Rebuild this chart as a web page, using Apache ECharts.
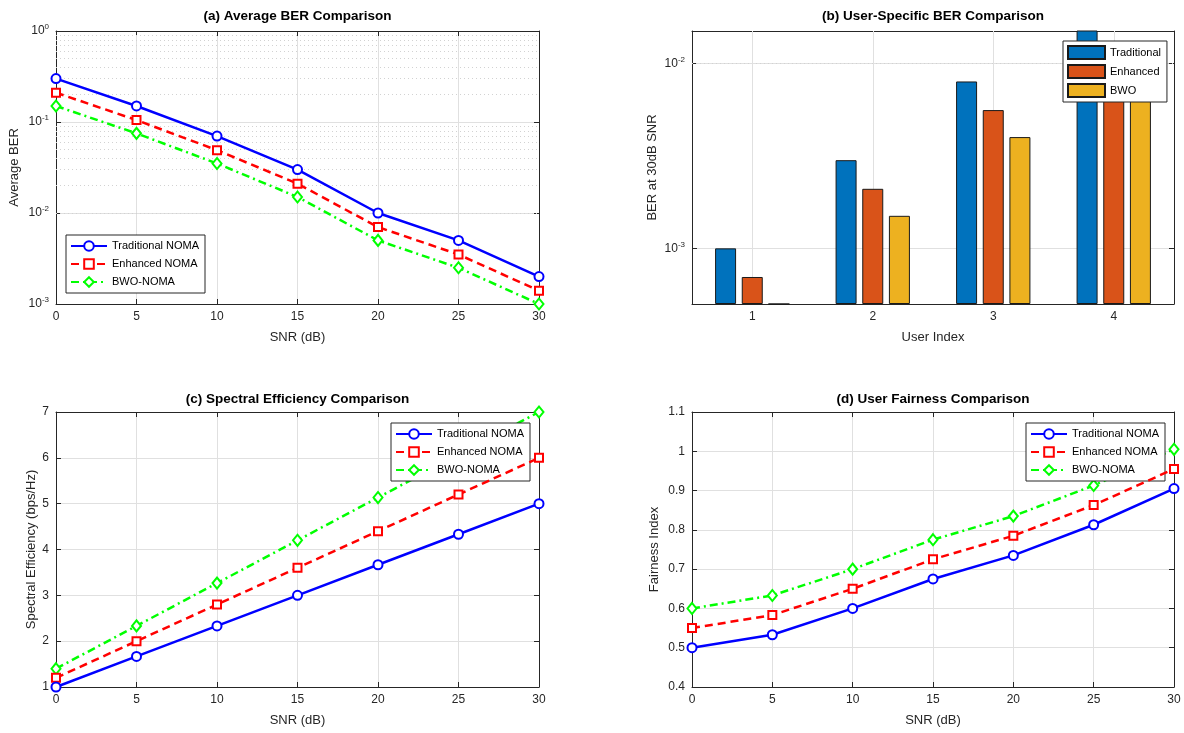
<!DOCTYPE html>
<html><head><meta charset="utf-8">
<script src="https://cdn.jsdelivr.net/npm/echarts@6/dist/echarts.min.js"></script>
<style>html,body{margin:0;padding:0;background:#fff}#c{width:1184px;height:733px}</style>
</head><body><div id="c"></div>
<script>
// ---------- data ----------
const snr = [0, 5, 10, 15, 20, 25, 30];
const berTrad = [0.3, 0.15, 0.07, 0.03, 0.01, 0.005, 0.002];
const berEnh  = [0.21, 0.105, 0.049, 0.021, 0.007, 0.0035, 0.0014];
const berBwo  = [0.15, 0.075, 0.035, 0.015, 0.005, 0.0025, 0.001];
const users = ['1', '2', '3', '4'];
const userTrad = [0.001, 0.003, 0.008, 0.016];
const userEnh  = [0.0007, 0.0021, 0.0056, 0.0112];
const userBwo  = [0.0005, 0.0015, 0.004, 0.008];
const seTrad = [1, 1.667, 2.333, 3, 3.667, 4.333, 5];
const seEnh  = [1.2, 2.0, 2.8, 3.6, 4.4, 5.2, 6.0];
const seBwo  = [1.4, 2.333, 3.267, 4.2, 5.133, 6.067, 7.0];
const fTrad = [0.5, 0.533, 0.6, 0.675, 0.735, 0.813, 0.905];
const fEnh  = [0.55, 0.583, 0.65, 0.725, 0.785, 0.863, 0.955];
const fBwo  = [0.6, 0.633, 0.7, 0.775, 0.835, 0.913, 1.005];
const lineNames = ['Traditional NOMA', 'Enhanced NOMA', 'BWO-NOMA'];
const barNames = ['Traditional', 'Enhanced', 'BWO'];

// ---------- styles ----------
const FONT = '"Liberation Sans", Arial, Helvetica, sans-serif';
const INK = '#262626';
const GRID = '#e0e0e0';
const MINOR = '#d2d2d2';
const lineStyles = [
  {color: '#0000ff', type: 'solid', symbol: 'emptyCircle', size: 9},
  {color: '#ff0000', type: [8, 5], symbol: 'emptyRect', size: 8},
  {color: '#00ff00', type: [8, 4, 2, 4], symbol: 'emptyDiamond', size: [9, 11]}
];
const barColors = ['#0072BD', '#D95319', '#EDB120'];

const grids = [
  {left: 56, top: 31, width: 483, height: 273},
  {left: 692, top: 31, width: 482, height: 273},
  {left: 56, top: 412, width: 483, height: 275},
  {left: 692, top: 412, width: 482, height: 275}
];

function logLabel(v) {
  const l = Math.log10(v); const r = Math.round(l);
  if (Math.abs(l - r) > 1e-6) return '';
  return '10{s|' + r + '}';
}
const richSup = {s: {fontSize: 8, color: INK, fontFamily: FONT, padding: [0, 0, 8, 0]}};

function minorVals(dMin, dMax, lo, hi) {
  const out = [];
  for (let d = dMin; d <= dMax; d++) for (let k = 2; k <= 9; k++) {
    const v = k * Math.pow(10, d);
    if (v > lo * 1.0001 && v < hi * 0.9999) out.push(v);
  }
  return out;
}

const tickStyle = {show: true, inside: true, length: 5, lineStyle: {color: INK}};
const lineAx = {show: true, onZero: false, lineStyle: {color: INK, width: 1}};
const labStyle = {color: INK, fontSize: 12, fontFamily: FONT, margin: 7};
const nameStyle = {color: INK, fontSize: 13, fontFamily: FONT};

function snrX(gi, pos, named) {
  return {
    type: 'value', gridIndex: gi, position: pos, min: 0, max: 30, interval: 5,
    name: named ? 'SNR (dB)' : '', nameLocation: 'middle', nameGap: 27, nameTextStyle: nameStyle,
    axisLine: lineAx, axisTick: tickStyle,
    axisLabel: Object.assign({show: named}, labStyle),
    splitLine: {show: named, lineStyle: {color: GRID, width: 1}}
  };
}
function yAx(gi, pos, cfg, named) {
  const a = Object.assign({
    gridIndex: gi, position: pos, nameLocation: 'middle', nameTextStyle: nameStyle,
    axisLine: lineAx, axisTick: tickStyle,
    axisLabel: Object.assign({show: named}, labStyle),
    splitLine: {show: named, lineStyle: {color: GRID, width: 1}}
  }, cfg);
  if (!named) a.name = '';
  return a;
}

const logLabelCfg = Object.assign({}, labStyle, {formatter: logLabel, rich: richSup});

const xAxis = [
  snrX(0, 'bottom', true), snrX(0, 'top', false),
  {type: 'category', gridIndex: 1, position: 'bottom', data: users, boundaryGap: true,
   name: 'User Index', nameLocation: 'middle', nameGap: 27, nameTextStyle: nameStyle,
   axisLine: lineAx, axisTick: Object.assign({alignWithLabel: true}, tickStyle),
   axisLabel: labStyle, splitLine: {show: false}},
  {type: 'category', gridIndex: 1, position: 'top', data: users, boundaryGap: true,
   axisLine: lineAx, axisTick: Object.assign({alignWithLabel: true}, tickStyle),
   axisLabel: {show: false}, splitLine: {show: false}},
  snrX(2, 'bottom', true), snrX(2, 'top', false),
  snrX(3, 'bottom', true), snrX(3, 'top', false)
];

const yA = {type: 'log', logBase: 10, min: 0.001, max: 1, name: 'Average BER', nameGap: 35};
const yB = {type: 'log', logBase: 10, min: 0.0005, max: 0.015, startValue: 0.0005, name: 'BER at 30dB SNR', nameGap: 33};
const yC = {type: 'value', min: 1, max: 7, interval: 1, name: 'Spectral Efficiency (bps/Hz)', nameGap: 18};
const yD = {type: 'value', min: 0.4, max: 1.1, interval: 0.1, name: 'Fairness Index', nameGap: 31};

const yAxis = [
  yAx(0, 'left', yA, true), yAx(0, 'right', yA, false),
  yAx(1, 'left', yB, true), yAx(1, 'right', yB, false),
  yAx(2, 'left', yC, true), yAx(2, 'right', yC, false),
  yAx(3, 'left', yD, true), yAx(3, 'right', yD, false)
];
yAxis[0].axisLabel = Object.assign({show: true}, logLabelCfg);
yAxis[2].axisLabel = Object.assign({show: true}, logLabelCfg);

function lineSeries(ax, ys, i) {
  const s = lineStyles[i];
  return {
    type: 'line', name: lineNames[i], xAxisIndex: ax, yAxisIndex: ax,
    data: snr.map((x, k) => [x, ys[k]]),
    symbol: s.symbol, symbolSize: s.size, showSymbol: true,
    lineStyle: {color: s.color, width: 2.5, type: s.type},
    itemStyle: {color: s.color, borderColor: s.color, borderWidth: 2},
    z: 3 - i + 2
  };
}

const minorA = minorVals(-3, -1, 0.001, 1);
const minorB = minorVals(-4, -3, 0.0005, 0.015);

const series = [
  {type: 'line', xAxisIndex: 0, yAxisIndex: 0, data: [], z: 1, silent: true,
   markLine: {silent: true, animation: false, z: 1, symbol: ['none', 'none'], label: {show: false},
     lineStyle: {type: [1, 3], color: MINOR, width: 1},
     data: minorA.map(v => ({yAxis: v}))}},
  {type: 'line', xAxisIndex: 2, yAxisIndex: 2, data: [], z: 1, silent: true,
   markLine: {silent: true, animation: false, z: 1, symbol: ['none', 'none'], label: {show: false},
     lineStyle: {type: [1, 3], color: MINOR, width: 1},
     data: minorB.map(v => ({yAxis: v})).concat(users.map((u, k) => ({xAxis: k, lineStyle: {type: 'solid', color: GRID, width: 1}})))}},
  lineSeries(0, berTrad, 0), lineSeries(0, berEnh, 1), lineSeries(0, berBwo, 2),
  lineSeries(4, seTrad, 0), lineSeries(4, seEnh, 1), lineSeries(4, seBwo, 2),
  lineSeries(6, fTrad, 0), lineSeries(6, fEnh, 1), lineSeries(6, fBwo, 2)
];
[userTrad, userEnh, userBwo].forEach((vals, i) => {
  series.push({
    type: 'bar', name: barNames[i], xAxisIndex: 2, yAxisIndex: 2, data: vals,
    barWidth: 21, barGap: '27%', clip: true,
    itemStyle: {color: barColors[i], borderColor: '#1a1a1a', borderWidth: 1}, z: 3
  });
});

function legendAt(left, top, names, isBar) {
  return {
    orient: 'vertical', left: left, top: top, data: names,
    backgroundColor: '#ffffff', borderColor: INK, borderWidth: 1, borderRadius: 0,
    padding: [4, 6, 4, 4], itemGap: 4,
    itemWidth: isBar ? 37 : 36, itemHeight: isBar ? 13 : 12,
    selectedMode: false,
    textStyle: {color: '#000', fontSize: 11, fontFamily: FONT, lineHeight: 14},
    icon: isBar ? 'rect' : undefined
  };
}

const titleStyle = {color: '#000', fontSize: 13.5, fontWeight: 'bold', fontFamily: FONT};
const option = {
  animation: false,
  backgroundColor: '#ffffff',
  title: [
    {text: '(a) Average BER Comparison', left: 297.5, top: 9, textAlign: 'center', padding: 0, textStyle: titleStyle},
    {text: '(b) User-Specific BER Comparison', left: 933, top: 9, textAlign: 'center', padding: 0, textStyle: titleStyle},
    {text: '(c) Spectral Efficiency Comparison', left: 297.5, top: 392, textAlign: 'center', padding: 0, textStyle: titleStyle},
    {text: '(d) User Fairness Comparison', left: 933, top: 392, textAlign: 'center', padding: 0, textStyle: titleStyle}
  ],
  grid: grids.map(g => Object.assign({containLabel: false}, g)),
  xAxis: xAxis,
  yAxis: yAxis,
  legend: [
    legendAt(66, 235, lineNames, false),
    legendAt(1063, 41, barNames, true),
    legendAt(391, 423, lineNames, false),
    legendAt(1026, 423, lineNames, false)
  ],
  series: series
};
const chart = echarts.init(document.getElementById('c'), null, {renderer: 'canvas'});
chart.setOption(option);
</script>
</body></html>
